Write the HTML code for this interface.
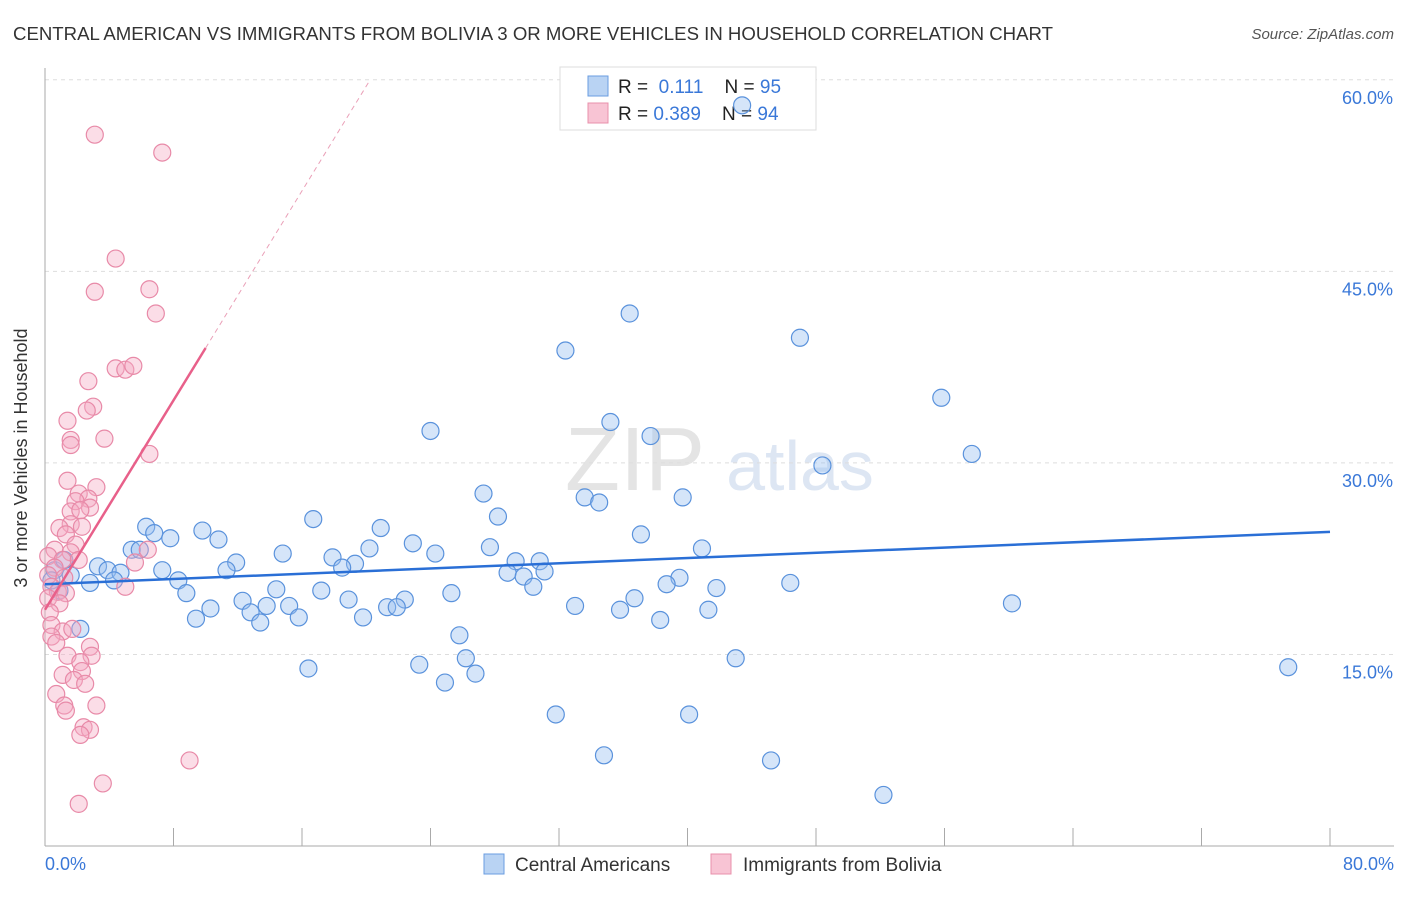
<!DOCTYPE html>
<html><head><meta charset="utf-8"><style>
body{margin:0;background:#fff;font-family:"Liberation Sans",sans-serif;}
svg text{font-family:"Liberation Sans",sans-serif;}
</style></head><body>
<svg width="1406" height="892">
<text x="13" y="40" font-size="18.5" fill="#333" textLength="1040" lengthAdjust="spacingAndGlyphs">CENTRAL AMERICAN VS IMMIGRANTS FROM BOLIVIA 3 OR MORE VEHICLES IN HOUSEHOLD CORRELATION CHART</text>
<text x="1394" y="39" font-size="15" fill="#555" font-style="italic" text-anchor="end">Source: ZipAtlas.com</text>
<text x="635" y="490" font-size="90" fill="#e4e4e4" font-family="Liberation Serif" text-anchor="middle">ZIP</text>
<text x="800" y="490" font-size="70" fill="#dde6f3" text-anchor="middle">atlas</text>
<g id="grid"></g>
<line x1="45" y1="68" x2="45" y2="846" stroke="#aaa"/>
<line x1="45" y1="846" x2="1394" y2="846" stroke="#aaa"/>
<g id="xticks"></g>
<text x="27" y="458" font-size="18" fill="#333" text-anchor="middle" transform="rotate(-90 27 458)">3 or more Vehicles in Household</text>
<text x="45" y="870" font-size="18" fill="#3a78d8">0.0%</text>
<text x="1394" y="870" font-size="18" fill="#3a78d8" text-anchor="end">80.0%</text>
<g>
<rect x="560" y="67" width="256" height="63" fill="#fff" stroke="#ddd"/>
<rect x="588" y="76" width="20" height="20" fill="#b9d3f3" stroke="#6a9de0"/>
<rect x="588" y="103" width="20" height="20" fill="#f8c4d4" stroke="#e890ab"/>
<text x="618" y="93" font-size="19" fill="#222" xml:space="preserve">R =  <tspan fill="#3a78d8">0.111</tspan>    N = <tspan fill="#3a78d8">95</tspan></text>
<text x="618" y="120" font-size="19" fill="#222" xml:space="preserve">R = <tspan fill="#3a78d8">0.389</tspan>    N = <tspan fill="#3a78d8">94</tspan></text>
</g>
<g id="pts"></g>
<g id="lines"></g>
<g>
<rect x="484" y="854" width="20" height="20" fill="#b9d3f3" stroke="#6a9de0"/>
<text x="515" y="871" font-size="19" fill="#333">Central Americans</text>
<rect x="711" y="854" width="20" height="20" fill="#f8c4d4" stroke="#e890ab"/>
<text x="743" y="871" font-size="19" fill="#333">Immigrants from Bolivia</text>
</g>
</svg>
<script>
const yTicks=[15,30,45,60];
const xTickVals=[0,8,16,24,32,40,48,56,64,72,80];
const blueX=[43.4,36.4,47.0,32.4,55.8,24.0,35.2,37.7,57.7,48.4,27.3,33.6,34.5,39.7,28.2,16.7,6.3,6.8,9.8,20.9,7.8,10.8,37.1,22.9,20.2,27.7,24.3,40.9,5.4,5.9,14.8,17.9,11.9,29.3,30.8,19.3,3.3,18.5,3.9,4.7,7.3,11.3,31.1,28.8,29.8,39.5,2.8,4.3,8.3,38.7,46.4,14.4,17.2,30.4,41.8,8.8,25.3,36.7,12.3,18.9,22.4,13.8,15.2,21.3,21.9,33.0,60.2,10.3,12.8,35.8,41.3,9.4,13.4,15.8,19.8,38.3,2.2,25.8,26.2,43.0,16.4,23.3,26.8,77.4,24.9,31.8,40.1,34.8,45.2,52.2,0.6,0.9,1.6,0.4,1.2];
const blueY=[58.0,41.7,39.8,38.8,35.1,32.5,33.2,32.1,30.7,29.8,27.6,27.3,26.9,27.3,25.8,25.6,25.0,24.5,24.7,24.9,24.1,24.0,24.4,23.7,23.3,23.4,22.9,23.3,23.2,23.2,22.9,22.6,22.2,22.3,22.3,22.1,21.9,21.8,21.6,21.4,21.6,21.6,21.5,21.4,21.1,21.0,20.6,20.8,20.8,20.5,20.6,20.1,20.0,20.3,20.2,19.8,19.8,19.4,19.2,19.3,19.3,18.8,18.8,18.7,18.7,18.8,19.0,18.6,18.3,18.5,18.5,17.8,17.5,17.9,17.9,17.7,17.0,16.5,14.7,14.7,13.9,14.2,13.5,14.0,12.8,10.3,10.3,7.1,6.7,4.0,21.6,20.0,21.2,20.8,22.4];
const pinkX=[3.1,7.3,4.4,6.5,3.1,6.9,2.7,4.4,5.0,5.5,3.0,2.6,1.4,3.7,1.6,1.6,6.5,1.4,3.2,2.1,2.7,1.9,2.8,1.6,2.2,1.6,0.9,2.3,1.3,1.9,0.6,1.6,6.4,5.6,0.2,1.1,2.1,0.6,0.2,1.2,0.4,0.8,0.2,1.3,5.0,0.9,0.3,0.4,1.1,1.7,0.4,0.7,2.8,1.4,2.9,2.2,2.3,1.1,1.8,2.5,0.7,1.2,1.3,3.2,2.4,2.8,2.2,9.0,3.6,2.1];
const pinkY=[55.7,54.3,46.0,43.6,43.4,41.7,36.4,37.4,37.3,37.6,34.4,34.1,33.3,31.9,31.8,31.4,30.7,28.6,28.1,27.6,27.2,27.0,26.5,26.2,26.3,25.2,24.9,25.0,24.4,23.6,23.2,23.0,23.2,22.2,22.7,22.4,22.4,21.8,21.2,21.0,20.3,19.9,19.4,19.8,20.3,19.0,18.3,17.3,16.8,17.0,16.4,15.9,15.6,14.9,14.9,14.4,13.7,13.4,13.0,12.7,11.9,11.0,10.6,11.0,9.3,9.1,8.7,6.7,4.9,3.3];
const blueTrend=[20.5,24.6];
const pinkTrend=[18.5,2.05];
const NS="http://www.w3.org/2000/svg";
const xs=v=>45+v*(1285/80);
const ys=v=>846-v*12.77;
function mk(t,a,p){const e=document.createElementNS(NS,t);for(const k in a)e.setAttribute(k,a[k]);document.getElementById(p).appendChild(e);return e;}
yTicks.forEach(t=>{
const g=mk('line',{x1:45,x2:1394,y1:ys(t),y2:ys(t),stroke:'#ddd','stroke-dasharray':'4,4'},'grid');


const l=mk('text',{x:1393,y:ys(t)+24,'font-size':18,fill:'#3a78d8','text-anchor':'end'},'grid');
l.textContent=t.toFixed(1)+'%';


});
xTickVals.forEach(t=>{
const e=mk('line',{x1:xs(t),x2:xs(t),y1:828,y2:846,stroke:'#aaa'},'xticks');


});
blueX.forEach((x,i)=>{
const c=mk('circle',{cx:xs(x),cy:ys(blueY[i]),r:8.5,fill:'rgba(150,190,240,0.4)',stroke:'#5a92dc','stroke-width':1.2},'pts');


});
pinkX.forEach((x,i)=>{
const c=mk('circle',{cx:xs(x),cy:ys(pinkY[i]),r:8.5,fill:'rgba(245,170,195,0.4)',stroke:'#e88aa8','stroke-width':1.2},'pts');


});
let b=mk('line',{x1:xs(0),y1:ys(blueTrend[0]),x2:xs(80),y2:ys(blueTrend[1]),stroke:'#2a6fd6','stroke-width':2.5},'lines');


const pEnd=10, pDash=(60-pinkTrend[0])/pinkTrend[1];
let p=mk('line',{x1:xs(0),y1:ys(pinkTrend[0]),x2:xs(pEnd),y2:ys(pinkTrend[0]+pinkTrend[1]*pEnd),stroke:'#e8608a','stroke-width':2.5},'lines');


let d=mk('line',{x1:xs(pEnd),y1:ys(pinkTrend[0]+pinkTrend[1]*pEnd),x2:xs(pDash),y2:ys(60),stroke:'#eaa0b8','stroke-width':1,'stroke-dasharray':'5,4'},'lines');


</script>
</body></html>
